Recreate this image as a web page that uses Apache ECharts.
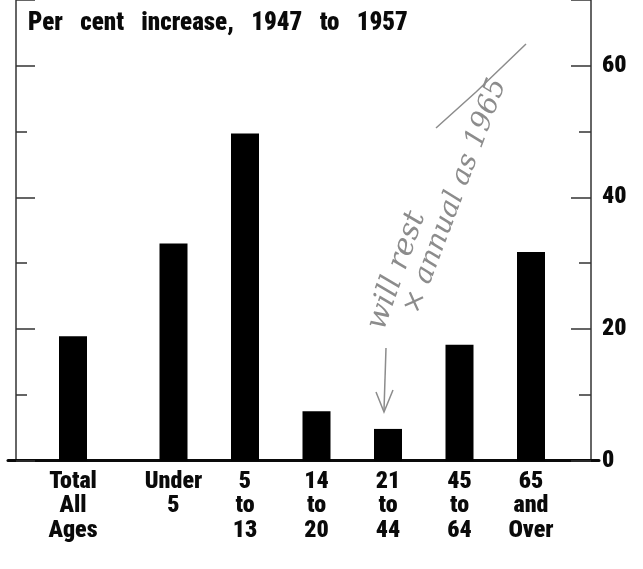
<!DOCTYPE html>
<html>
<head>
<meta charset="utf-8">
<script src="https://cdn.jsdelivr.net/npm/echarts@6/dist/echarts.min.js"></script>
<style>
  html, body { margin: 0; padding: 0; background: #fff; }
  #chart { width: 643px; height: 569px; }
</style>
</head>
<body>
<div id="chart"></div>
<script>
// data
const totalLabel = ['Total\nAll\nAges'];
const totalValue = [18.9];
const ageGroups = ['Under\n5', '5\nto\n13', '14\nto\n20', '21\nto\n44', '45\nto\n64', '65\nand\nOver'];
const ageValues = [33.0, 49.7, 7.5, 4.8, 17.6, 31.7];
const yTicks = [0, 20, 40, 60];
const titleText = 'Per   cent   increase,   1947   to   1957';

const FONT = '"Roboto Condensed", Roboto, sans-serif';
const INK = '#0a0a0a';
const PENCIL = '#8c8c8c';

const chart = echarts.init(document.getElementById('chart'), null, { renderer: 'canvas' });

// every grid shares the same vertical scale: 0 at y=460.5, 70 at the top edge
const TOP = -1, H = 461.5;

const hiddenY = (grid) => ({
  type: 'value', gridIndex: grid, min: 0, max: 70, show: false
});

const labelStyle = {
  fontFamily: FONT, fontSize: 24, fontWeight: 900, color: INK,
  lineHeight: 24.5, margin: 9
};

const option = {
  animation: false,
  backgroundColor: '#fff',
  title: {
    text: titleText,
    left: 23, top: 6,
    textStyle: { fontFamily: FONT, fontSize: 25, fontWeight: 900, color: INK }
  },
  grid: [
    { left: 16, width: 575, top: TOP, height: H },     // frame with tick axes
    { left: 17, width: 112, top: TOP, height: H },     // total bar
    { left: 137.75, width: 429, top: TOP, height: H }, // age groups
    { left: 8, width: 591, top: TOP, height: H }       // heavy baseline
  ],
  xAxis: [
    { type: 'value', gridIndex: 0, show: false },
    {
      type: 'category', gridIndex: 1, data: totalLabel,
      axisLine: { show: false }, axisTick: { show: false },
      axisLabel: labelStyle
    },
    {
      type: 'category', gridIndex: 2, data: ageGroups,
      axisLine: { show: false }, axisTick: { show: false },
      axisLabel: Object.assign({ interval: 0 }, labelStyle)
    },
    {
      type: 'value', gridIndex: 3, min: 0, max: 1,
      axisLine: { show: true, lineStyle: { color: INK, width: 3 } },
      axisTick: { show: false }, axisLabel: { show: false }, splitLine: { show: false }
    }
  ],
  yAxis: [
    {
      type: 'value', gridIndex: 0, position: 'left', min: 0, max: 70, interval: 20,
      axisLine: { show: true, lineStyle: { color: '#333', width: 1.5 } },
      axisTick: { show: true, inside: true, length: 19, lineStyle: { color: '#333', width: 1.5 } },
      minorTick: { show: true, splitNumber: 2, length: 11, lineStyle: { color: '#333', width: 1.5 } },
      axisLabel: { show: false },
      splitLine: { show: false }
    },
    {
      type: 'value', gridIndex: 0, position: 'right', min: 0, max: 70, interval: 20,
      axisLine: { show: true, lineStyle: { color: '#333', width: 1.5 } },
      axisTick: { show: true, inside: true, length: 20, lineStyle: { color: '#333', width: 1.5 } },
      minorTick: { show: true, splitNumber: 2, length: 12, lineStyle: { color: '#333', width: 1.5 } },
      axisLabel: {
        show: true, margin: 11, fontFamily: FONT, fontSize: 24, fontWeight: 900, color: INK,
        formatter: v => (yTicks.indexOf(v) >= 0 ? String(v) : '')
      },
      splitLine: { show: false }
    },
    hiddenY(1),
    hiddenY(2),
    hiddenY(3)
  ],
  series: [
    {
      type: 'bar', xAxisIndex: 1, yAxisIndex: 2, data: totalValue,
      barWidth: 28, itemStyle: { color: '#000' }
    },
    {
      type: 'bar', xAxisIndex: 2, yAxisIndex: 3, data: ageValues,
      barWidth: 28, itemStyle: { color: '#000' }
    }
  ],
  // pencil notes scribbled on the scan
  graphic: [
    {
      type: 'text', x: 362, y: 324, rotation: 1.23,
      style: { text: 'will rest', font: 'italic 30px "DejaVu Serif", serif', fill: PENCIL }
    },
    {
      type: 'text', x: 398, y: 308, rotation: 1.21,
      style: { text: '× annual as 1965', font: 'italic 28px "DejaVu Serif", serif', fill: PENCIL }
    },
    {
      type: 'polyline',
      shape: { points: [[436, 128], [476, 92], [526, 44]] },
      style: { stroke: PENCIL, lineWidth: 1.5, fill: null }
    },
    {
      type: 'polyline',
      shape: { points: [[386, 348], [384, 410]] },
      style: { stroke: PENCIL, lineWidth: 1.5, fill: null }
    },
    {
      type: 'polyline',
      shape: { points: [[376, 392], [384, 412], [393, 390]] },
      style: { stroke: PENCIL, lineWidth: 1.5, fill: null }
    }
  ]
};

chart.setOption(option);
</script>
</body>
</html>
